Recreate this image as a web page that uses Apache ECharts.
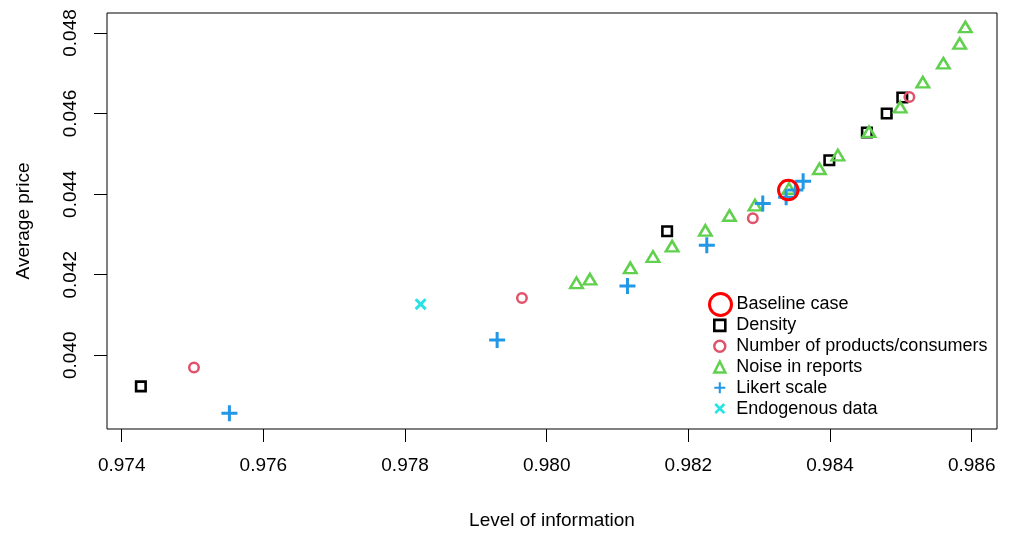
<!DOCTYPE html>
<html>
<head>
<meta charset="utf-8">
<script src="https://cdn.jsdelivr.net/npm/echarts@6/dist/echarts.min.js"></script>
<style>
  html, body { margin: 0; padding: 0; background: #fff; }
  #chart { width: 1009px; height: 537px; }
</style>
</head>
<body>
<div id="chart"></div>
<script>
// tick labels
const xTicks = [0.974, 0.976, 0.978, 0.980, 0.982, 0.984, 0.986];
const yTicks = [0.040, 0.042, 0.044, 0.046, 0.048];

// [level of information, average price]
const baseline = [[0.98341, 0.04410]];
const density = [
  [0.97427, 0.03923], [0.98170, 0.04308], [0.98399, 0.04484],
  [0.98452, 0.04553], [0.98480, 0.04600], [0.98502, 0.04640]
];
const products = [
  [0.97502, 0.03970], [0.97965, 0.04142], [0.98291, 0.04340], [0.98512, 0.04641]
];
const noise = [
  [0.98042, 0.04180], [0.98061, 0.04189], [0.98118, 0.04217], [0.98150, 0.04245],
  [0.98177, 0.04271], [0.98224, 0.04310], [0.98258, 0.04347], [0.98294, 0.04373],
  [0.98342, 0.04414], [0.98385, 0.04463], [0.98411, 0.04497], [0.98455, 0.04555],
  [0.98499, 0.04616], [0.98531, 0.04678], [0.98560, 0.04725], [0.98583, 0.04774],
  [0.98591, 0.04815]
];
const likert = [
  [0.97552, 0.03856], [0.97930, 0.04038], [0.98114, 0.04172], [0.98226, 0.04273],
  [0.98305, 0.04377], [0.98338, 0.04392], [0.98351, 0.04410], [0.98362, 0.04432]
];
const endogenous = [[0.97822, 0.04127]];

// R style plus (pch 3) and cross (pch 4) as filled shapes
const plusPath = 'path://M6.5,0H9.5V16H6.5Z M0,6.5H16V9.5H0Z';
const crossPath = 'path://M2.1,0L12,9.9L9.9,12L0,2.1Z M9.9,0L12,2.1L2.1,12L0,9.9Z';
const font = 'Liberation Sans';

const chart = echarts.init(document.getElementById('chart'), null, { renderer: 'canvas' });

function hollow(color, width) {
  return { color: 'rgba(0,0,0,0)', borderColor: color, borderWidth: width, opacity: 1 };
}

const legendText = { fontSize: 18, fontFamily: font, color: '#000' };

const option = {
  animation: false,
  backgroundColor: '#fff',
  textStyle: { fontFamily: font, color: '#000' },
  grid: {
    left: 107, right: 12, top: 13, bottom: 108,
    show: true, borderColor: '#000', borderWidth: 1, backgroundColor: 'transparent'
  },
  xAxis: {
    type: 'value',
    min: 0.973792, max: 0.986357,
    name: 'Level of information',
    nameLocation: 'middle',
    nameGap: 82,
    nameTextStyle: { fontSize: 19, color: '#000', fontFamily: font },
    axisLine: { show: false },
    axisTick: { show: true, inside: false, length: 13, customValues: xTicks, lineStyle: { color: '#000' } },
    axisLabel: {
      customValues: xTicks, margin: 27, fontSize: 19, color: '#000', fontFamily: font,
      formatter: v => v.toFixed(3)
    },
    splitLine: { show: false }
  },
  yAxis: {
    type: 'value',
    min: 0.038171, max: 0.048496,
    name: 'Average price',
    nameLocation: 'middle',
    nameRotate: 90,
    nameGap: 74,
    nameTextStyle: { fontSize: 19, color: '#000', fontFamily: font },
    axisLine: { show: false },
    axisTick: { show: true, inside: false, length: 13, customValues: yTicks, lineStyle: { color: '#000' } },
    axisLabel: {
      customValues: yTicks, rotate: 90, margin: 27, fontSize: 19, color: '#000', fontFamily: font,
      formatter: v => v.toFixed(3)
    },
    splitLine: { show: false }
  },
  legend: [
    {
      data: [{ name: 'Baseline case', itemStyle: { borderWidth: 3 } }],
      orient: 'vertical', left: 708, top: 292, padding: 0,
      itemWidth: 22, itemHeight: 22, itemGap: 0,
      textStyle: Object.assign({ lineHeight: 22 }, legendText),
      selectedMode: false
    },
    {
      data: [
        { name: 'Density', itemStyle: { borderWidth: 2.6 } },
        { name: 'Number of products/consumers', itemStyle: { borderWidth: 2.5 } },
        { name: 'Noise in reports', itemStyle: { borderWidth: 2.5 } },
        { name: 'Likert scale' },
        { name: 'Endogenous data' }
      ],
      orient: 'vertical', left: 713, top: 315, padding: 0,
      itemWidth: 11, itemHeight: 11, itemGap: 0,
      textStyle: Object.assign({ lineHeight: 20.8, padding: [0, 0, 0, 6] }, legendText),
      selectedMode: false
    }
  ],
  series: [
    {
      name: 'Density', type: 'scatter', data: density,
      symbol: 'rect', symbolSize: 9.5,
      itemStyle: hollow('#000000', 2.6)
    },
    {
      name: 'Number of products/consumers', type: 'scatter', data: products,
      symbol: 'circle', symbolSize: 9.5,
      itemStyle: hollow('#DF536B', 2.5)
    },
    {
      name: 'Noise in reports', type: 'scatter', data: noise,
      symbol: 'triangle', symbolSize: [12.5, 10.5],
      itemStyle: hollow('#61D04F', 2.5)
    },
    {
      name: 'Likert scale', type: 'scatter', data: likert,
      symbol: plusPath, symbolSize: 16,
      itemStyle: { color: '#2297E6', borderWidth: 0, opacity: 1 }
    },
    {
      name: 'Endogenous data', type: 'scatter', data: endogenous,
      symbol: crossPath, symbolSize: 12,
      itemStyle: { color: '#28E2E5', borderWidth: 0, opacity: 1 }
    },
    {
      name: 'Baseline case', type: 'scatter', data: baseline,
      symbol: 'circle', symbolSize: 19.5,
      itemStyle: hollow('#FF0000', 3)
    }
  ]
};

chart.setOption(option);
</script>
</body>
</html>
